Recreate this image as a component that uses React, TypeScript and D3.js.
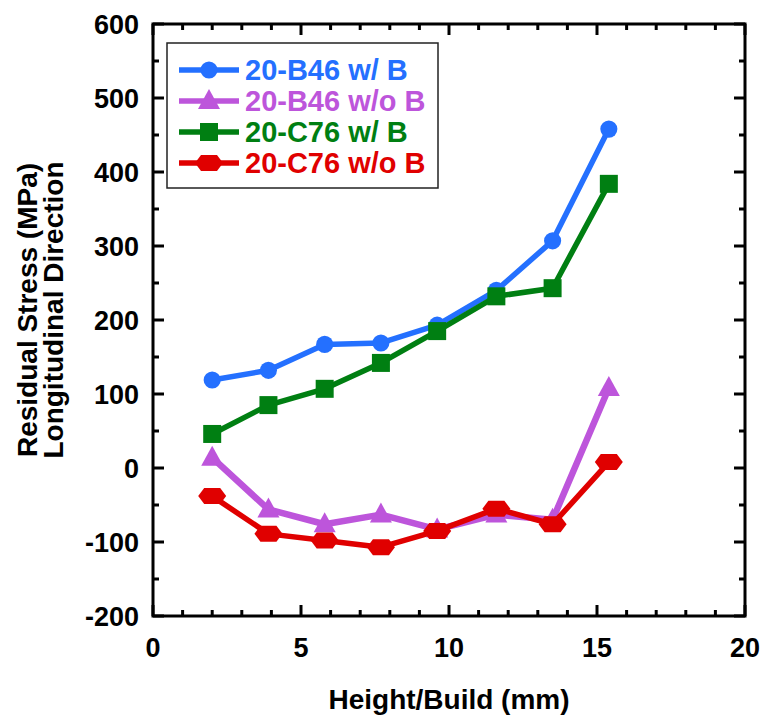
import * as d3 from "d3";
import { useEffect, useRef } from "react";

const heights = [2.0, 3.9, 5.8, 7.7, 9.6, 11.6, 13.5, 15.4];
const b46WithB = [119, 132, 167, 169, 193, 240, 307, 458];
const b46WithoutB = [14, -56, -76, -63, -83, -63, -70, 108];
const c76WithB = [46, 85, 107, 142, 185, 232, 243, 384];
const c76WithoutB = [-38, -89, -98, -107, -85, -55, -76, 8];

const seriesNames = ["20-B46 w/ B", "20-B46 w/o B", "20-C76 w/ B", "20-C76 w/o B"];
const seriesColors = ["#2470ff", "#bd55db", "#007f12", "#e00000"];
const seriesShapes = ["circle", "triangle", "square", "hexagon"];

const xTicks = [0, 5, 10, 15, 20];
const yTicks = [-200, -100, 0, 100, 200, 300, 400, 500, 600];

const FONT = "'Liberation Sans', Arial, sans-serif";

function markerPath(shape: string): string {
    if (shape === "circle") {
        return d3.symbol(d3.symbolCircle, 230)() as string;
    }
    if (shape === "square") {
        return "M-9,-9L9,-9L9,9L-9,9Z";
    }
    if (shape === "triangle") {
        return "M0,-12L11,8L-11,8Z";
    }
    // flat hexagon, pointy left/right
    return "M-14,0L-8,-8L8,-8L14,0L8,8L-8,8Z";
}

const App = () => {
    const chartRef = useRef<SVGSVGElement>(null);

    useEffect(() => {
        const svg = d3.select(chartRef.current);
        svg.selectAll("*").remove();

        const left = 153, right = 745, top = 24, bottom = 616;

        const x = d3.scaleLinear().domain([0, 20]).range([left, right]);
        const y = d3.scaleLinear().domain([-200, 600]).range([bottom, top]);

        const axes = svg.append("g");

        // minor + major ticks, inward, on all four sides
        const xMinor = d3.range(0, 21, 1);
        const yMinor = d3.range(-200, 601, 50);
        xMinor.forEach(v => {
            const len = v % 5 === 0 ? 11 : 6;
            axes.append("line").attr("x1", x(v)).attr("x2", x(v))
                .attr("y1", bottom).attr("y2", bottom - len)
                .attr("stroke", "#000").attr("stroke-width", 3);
            axes.append("line").attr("x1", x(v)).attr("x2", x(v))
                .attr("y1", top).attr("y2", top + len)
                .attr("stroke", "#000").attr("stroke-width", 3);
        });
        yMinor.forEach(v => {
            const len = v % 100 === 0 ? 11 : 6;
            axes.append("line").attr("y1", y(v)).attr("y2", y(v))
                .attr("x1", left).attr("x2", left + len)
                .attr("stroke", "#000").attr("stroke-width", 3);
            axes.append("line").attr("y1", y(v)).attr("y2", y(v))
                .attr("x1", right).attr("x2", right - len)
                .attr("stroke", "#000").attr("stroke-width", 3);
        });

        axes.append("rect")
            .attr("x", left).attr("y", top)
            .attr("width", right - left).attr("height", bottom - top)
            .attr("fill", "none").attr("stroke", "#000").attr("stroke-width", 3);

        // tick labels
        axes.selectAll(".xlab").data(xTicks).enter().append("text")
            .attr("x", d => x(d)).attr("y", 657)
            .attr("text-anchor", "middle")
            .style("font", `bold 27px ${FONT}`)
            .text(d => d);

        axes.selectAll(".ylab").data(yTicks).enter().append("text")
            .attr("x", 139).attr("y", d => y(d) + 9.5)
            .attr("text-anchor", "end")
            .style("font", `bold 27px ${FONT}`)
            .text(d => d);

        // axis titles
        svg.append("text")
            .attr("x", (left + right) / 2).attr("y", 709)
            .attr("text-anchor", "middle")
            .style("font", `bold 28px ${FONT}`)
            .text("Height/Build (mm)");

        const yTitle = svg.append("text")
            .attr("transform", "translate(0,310) rotate(-90)")
            .attr("text-anchor", "middle")
            .style("font", `bold 28px ${FONT}`);
        yTitle.append("tspan").attr("x", 0).attr("y", 37).text("Residual Stress (MPa)");
        yTitle.append("tspan").attr("x", 0).attr("y", 63).text("Longitudinal Direction");

        // series
        const allSeries = [b46WithB, b46WithoutB, c76WithB, c76WithoutB];
        const line = d3.line<number>()
            .x((_, i) => x(heights[i]))
            .y(d => y(d));

        allSeries.forEach((values, si) => {
            const g = svg.append("g");
            g.append("path")
                .attr("d", line(values))
                .attr("fill", "none")
                .attr("stroke", seriesColors[si])
                .attr("stroke-width", si === 1 ? 6.5 : 5.5)
                .attr("stroke-linejoin", "round");
            g.selectAll("path.mk").data(values).enter().append("path")
                .attr("class", "mk")
                .attr("d", markerPath(seriesShapes[si]))
                .attr("transform", (d, i) => `translate(${x(heights[i])},${y(d)})`)
                .attr("fill", seriesColors[si]);
        });

        // legend
        const lg = svg.append("g");
        lg.append("rect")
            .attr("x", 167).attr("y", 43).attr("width", 271).attr("height", 145)
            .attr("fill", "#fff").attr("stroke", "#222").attr("stroke-width", 1.5);
        seriesNames.forEach((name, i) => {
            const cy = 70 + i * 31;
            lg.append("line")
                .attr("x1", 179).attr("x2", 239).attr("y1", cy).attr("y2", cy)
                .attr("stroke", seriesColors[i]).attr("stroke-width", 5.5);
            lg.append("path")
                .attr("d", markerPath(seriesShapes[i]))
                .attr("transform", `translate(209,${cy})`)
                .attr("fill", seriesColors[i]);
            lg.append("text")
                .attr("x", 245).attr("y", cy + 10)
                .style("font", `bold 29px ${FONT}`)
                .attr("fill", seriesColors[i])
                .text(name);
        });
    }, []);

    return (
        <svg ref={chartRef} width={763} height={720}
            style={{ position: "absolute", left: 0, top: 0, background: "#fff" }} />
    );
};

export default App;
